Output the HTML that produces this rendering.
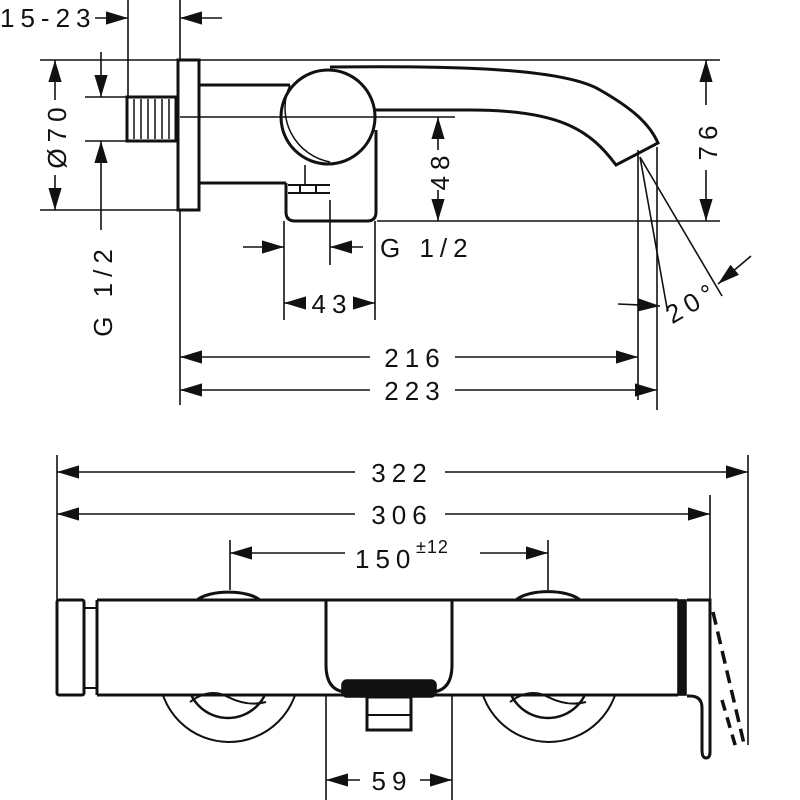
<!DOCTYPE html>
<html><head><meta charset="utf-8"><style>
html,body{margin:0;padding:0;background:#fff}
svg{display:block}
text{font-family:"Liberation Sans",sans-serif;font-size:26px;fill:#111;letter-spacing:6px}
</style></head><body>
<svg width="800" height="800" viewBox="0 0 800 800" xmlns="http://www.w3.org/2000/svg">
<defs>
<marker id="b" viewBox="0 0 10 10" refX="10" refY="5" markerWidth="22" markerHeight="22" markerUnits="userSpaceOnUse" orient="auto-start-reverse"><path d="M0,2 L10,5 L0,8Z" fill="#111"/></marker>
<clipPath id="below"><rect x="0" y="695" width="800" height="105"/></clipPath>
</defs>
<g fill="none" stroke="#111" stroke-width="1.6">
<!-- TOP VIEW -->
<line x1="128" y1="0" x2="128" y2="97"/>
<line x1="180" y1="0" x2="180" y2="60"/>
<line x1="95" y1="18" x2="128" y2="18" marker-end="url(#b)"/>
<line x1="222" y1="18" x2="180" y2="18" marker-end="url(#b)"/>
<line x1="40" y1="60" x2="720" y2="60"/>
<line x1="40" y1="210" x2="180" y2="210"/>
<line x1="377" y1="221" x2="720" y2="221"/>
<line x1="55" y1="100" x2="55" y2="60" marker-end="url(#b)"/>
<line x1="55" y1="175" x2="55" y2="210" marker-end="url(#b)"/>
<line x1="85" y1="97" x2="127" y2="97"/>
<line x1="85" y1="141" x2="127" y2="141"/>
<line x1="101" y1="52" x2="101" y2="97" marker-end="url(#b)"/>
<line x1="101" y1="230" x2="101" y2="141" marker-end="url(#b)"/>
<rect x="178" y="60" width="21" height="150" stroke-width="3"/>
<rect x="127" y="97" width="49" height="44" stroke-width="3"/>
<path d="M134,99V139M141,99V139M148,99V139M155,99V139M162,99V139M169,99V139" stroke-width="1.5"/>
<line x1="180" y1="117" x2="455" y2="117"/>
<path d="M199,85H290M199,183H286" stroke-width="3"/>
<circle cx="328" cy="117" r="47" stroke-width="3"/>
<path d="M290,85 A55,55 0 0 0 330,162" stroke-width="1.5"/>
<path d="M330,67 C430,66 560,66 600,90 C635,110 650,125 658,143 L616,165 C590,130 560,110 470,110 L375,110" stroke-width="3"/>
<path d="M286,183 V212 Q286,221 295,221 H367 Q376,221 376,212 V130" stroke-width="3"/>
<path d="M288,185 H330 M288,193 H330 M300,185V193 M316,185V193" stroke-width="2"/>
<line x1="305" y1="165" x2="305" y2="185"/>
<line x1="438" y1="150" x2="438" y2="117" marker-end="url(#b)"/>
<line x1="438" y1="190" x2="438" y2="221" marker-end="url(#b)"/>
<line x1="706" y1="105" x2="706" y2="60" marker-end="url(#b)"/>
<line x1="706" y1="170" x2="706" y2="221" marker-end="url(#b)"/>
<line x1="284" y1="221" x2="284" y2="320"/>
<line x1="330" y1="200" x2="330" y2="265"/>
<line x1="375" y1="221" x2="375" y2="320"/>
<line x1="243" y1="247" x2="284" y2="247" marker-end="url(#b)"/>
<line x1="363" y1="247" x2="330" y2="247" marker-end="url(#b)"/>
<line x1="306" y1="303" x2="284" y2="303" marker-end="url(#b)"/>
<line x1="353" y1="303" x2="375" y2="303" marker-end="url(#b)"/>
<line x1="180" y1="210" x2="180" y2="405"/>
<line x1="638" y1="150" x2="638" y2="400"/>
<line x1="657" y1="147" x2="657" y2="410"/>
<line x1="180" y1="357" x2="370" y2="357" marker-start="url(#b)"/>
<line x1="455" y1="357" x2="638" y2="357" marker-end="url(#b)"/>
<line x1="180" y1="390" x2="370" y2="390" marker-start="url(#b)"/>
<line x1="455" y1="390" x2="657" y2="390" marker-end="url(#b)"/>
<line x1="640" y1="157" x2="667" y2="308"/>
<line x1="640" y1="157" x2="722" y2="296"/>
<line x1="618" y1="304" x2="660" y2="306" marker-end="url(#b)"/>
<line x1="751" y1="256" x2="718" y2="284" marker-end="url(#b)"/>
<!-- BOTTOM VIEW -->
<line x1="57" y1="455" x2="57" y2="600"/>
<line x1="748" y1="455" x2="748" y2="745"/>
<line x1="710" y1="495" x2="710" y2="600"/>
<line x1="57" y1="472" x2="355" y2="472" marker-start="url(#b)"/>
<line x1="445" y1="472" x2="748" y2="472" marker-end="url(#b)"/>
<line x1="57" y1="514" x2="355" y2="514" marker-start="url(#b)"/>
<line x1="445" y1="514" x2="710" y2="514" marker-end="url(#b)"/>
<line x1="230" y1="540" x2="230" y2="590"/>
<line x1="548" y1="540" x2="548" y2="590"/>
<line x1="230" y1="553" x2="345" y2="553" marker-start="url(#b)"/>
<line x1="480" y1="553" x2="548" y2="553" marker-end="url(#b)"/>
<path d="M197,600 A35,14 0 0 1 260,600 M516,600 A35,14 0 0 1 580,600" stroke-width="3"/>
<rect x="57" y="600" width="27" height="95" rx="2" stroke-width="3"/>
<path d="M84,608H97M84,688H97" stroke-width="2"/>
<path d="M97,600 H678 M97,695 H678 M97,600 V695" stroke-width="3"/>
<rect x="678" y="600" width="8" height="95" fill="#111"/>
<path d="M687,600 H710 V752 Q710,758 706,758 Q702,758 702,750 V708 Q702,696 690,696 H687" stroke-width="3"/>
<path d="M713,612 L745,748" stroke-width="3.5" stroke-dasharray="13,7"/>
<path d="M722,700 L736,748" stroke-width="3.5" stroke-dasharray="11,7"/>
<path d="M326,600 V665 Q326,690 345,692 M452,600 V665 Q452,690 433,692" stroke-width="3"/>
<rect x="342" y="680" width="94" height="17" rx="5" fill="#111"/>
<rect x="367" y="697" width="44" height="33" stroke-width="3"/>
<line x1="367" y1="715" x2="411" y2="715" stroke-width="2"/>
<line x1="326" y1="695" x2="326" y2="800"/>
<line x1="452" y1="695" x2="452" y2="800"/>
<line x1="326" y1="780" x2="360" y2="780" marker-start="url(#b)"/>
<line x1="420" y1="780" x2="452" y2="780" marker-end="url(#b)"/>
<g clip-path="url(#below)">
<circle cx="229" cy="672" r="70" stroke-width="2"/>
<circle cx="549" cy="672" r="70" stroke-width="2"/>
<circle cx="228" cy="677" r="41" stroke-width="2.5"/>
<circle cx="548" cy="677" r="41" stroke-width="2.5"/>
</g>
<path d="M190,702 Q210,687 228,697 Q248,707 266,702 M510,702 Q530,687 548,697 Q568,707 586,702" stroke-width="2"/>
</g>
<text x="0" y="27">15-23</text>
<text transform="translate(66,135) rotate(-90)" text-anchor="middle">Ø70</text>
<text transform="translate(112,290) rotate(-90)" text-anchor="middle">G 1/2</text>
<text transform="translate(449,170) rotate(-90)" text-anchor="middle">48</text>
<text transform="translate(717,140) rotate(-90)" text-anchor="middle">76</text>
<text x="380" y="257">G 1/2</text>
<text x="332" y="313" text-anchor="middle">43</text>
<text x="415" y="367" text-anchor="middle">216</text>
<text x="415" y="400" text-anchor="middle">223</text>
<text transform="translate(697,310) rotate(-30)" text-anchor="middle">20°</text>
<text x="402" y="482" text-anchor="middle">322</text>
<text x="402" y="524" text-anchor="middle">306</text>
<text x="355" y="568">150</text><text x="416" y="553" style="font-size:18px;letter-spacing:1px">±12</text>
<text x="392" y="790" text-anchor="middle">59</text>
</svg>
</body></html>
